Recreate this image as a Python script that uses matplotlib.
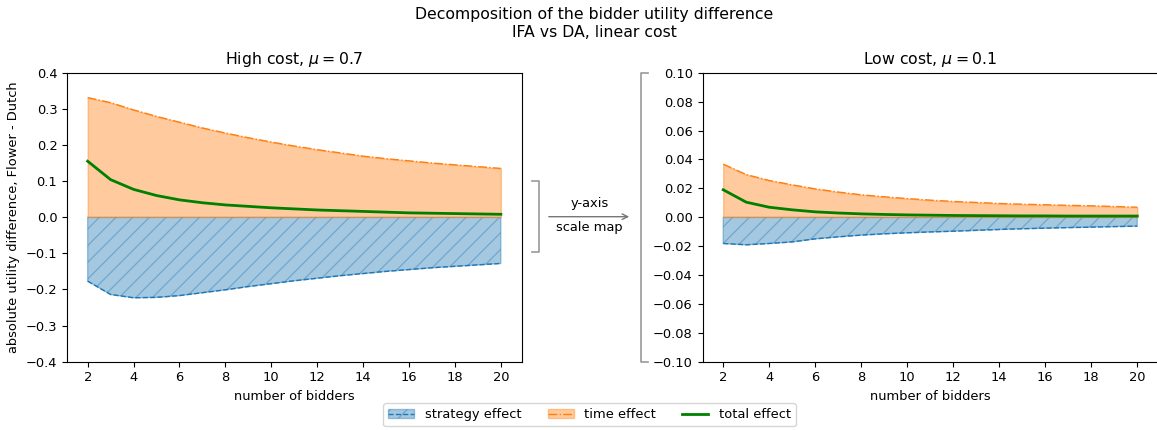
import matplotlib
matplotlib.use("Agg")
import matplotlib.pyplot as plt
from matplotlib.lines import Line2D
import numpy as np

# ---- data ----
bidders = [2, 3, 4, 5, 6, 7, 8, 9, 10, 11, 12, 13, 14, 15, 16, 17, 18, 19, 20]

high_time = [0.331, 0.317, 0.297, 0.279, 0.263, 0.247, 0.233, 0.220, 0.208, 0.197,
             0.187, 0.178, 0.169, 0.162, 0.156, 0.150, 0.145, 0.140, 0.135]
high_strategy = [-0.177, -0.214, -0.223, -0.222, -0.217, -0.209, -0.201, -0.192, -0.184, -0.176,
                 -0.169, -0.162, -0.156, -0.150, -0.145, -0.140, -0.136, -0.132, -0.128]
high_total = [0.155, 0.104, 0.077, 0.060, 0.048, 0.040, 0.034, 0.030, 0.026, 0.023,
              0.020, 0.018, 0.016, 0.014, 0.012, 0.011, 0.010, 0.009, 0.008]

low_time = [0.0367, 0.0295, 0.0254, 0.0224, 0.0196, 0.0174, 0.0155, 0.0141, 0.0129, 0.0118,
            0.0109, 0.0102, 0.0095, 0.0090, 0.0086, 0.0082, 0.0079, 0.0074, 0.0069]
low_strategy = [-0.0182, -0.0191, -0.0182, -0.0171, -0.0150, -0.0136, -0.0124, -0.0115, -0.0108, -0.0102,
                -0.0097, -0.0091, -0.0085, -0.0080, -0.0076, -0.0072, -0.0069, -0.0065, -0.0062]
low_total = [0.0190, 0.0104, 0.0069, 0.0051, 0.0037, 0.0029, 0.0023, 0.0019, 0.0016, 0.0014,
             0.0012, 0.0011, 0.0010, 0.0009, 0.0009, 0.0008, 0.0008, 0.0008, 0.0008]

panel_titles = [r"High cost, $\mu = 0.7$", r"Low cost, $\mu = 0.1$"]
legend_labels = ["strategy effect", "time effect", "total effect"]
xticks = [2, 4, 6, 8, 10, 12, 14, 16, 18, 20]

plt.rcParams['font.size'] = 9.4
plt.rcParams['axes.titlesize'] = 11.3
plt.rcParams['hatch.linewidth'] = 0.9

W, H = 1157, 430
fig = plt.figure(figsize=(W / 100, H / 100), dpi=100)

def fx(px):
    return px / W

def fy(py):
    return 1 - py / H

ax1 = fig.add_axes([fx(67), fy(361.7), fx(454.5), 289 / H])
ax2 = fig.add_axes([fx(702.5), fy(361.7), fx(455.5), 289 / H])

handles = None
for ax, time, strat, total, title, lim, step in [
    (ax1, high_time, high_strategy, high_total, panel_titles[0], 0.4, 0.1),
    (ax2, low_time, low_strategy, low_total, panel_titles[1], 0.1, 0.02),
]:
    fs = ax.fill_between(bidders, 0, strat, facecolor='C0', edgecolor='C0', alpha=0.4, hatch='//')
    ls, = ax.plot(bidders, strat, '--', color='C0', lw=1)
    ft = ax.fill_between(bidders, 0, time, color='C1', alpha=0.4)
    lt, = ax.plot(bidders, time, '-.', color='C1', lw=1)
    ltot, = ax.plot(bidders, total, '-', color='green', lw=2)
    ax.set_ylim(-lim, lim)
    ax.set_yticks(np.round(np.arange(-lim, lim + step / 2, step), 3))
    ax.set_xticks(xticks)
    ax.set_xlabel("number of bidders")
    ax.set_title(title)
    handles = [(fs, ls), (ft, lt), ltot]

ax1.set_ylabel("absolute utility difference, Flower - Dutch")

grey = '#999999'
# middle bracket (marks -0.1..0.1 on left axis)
fig.add_artist(Line2D([fx(531.7), fx(539), fx(539), fx(531.7)],
                      [fy(180.7), fy(180.7), fy(252.3), fy(252.3)],
                      color=grey, lw=1.2, transform=fig.transFigure))
# right bracket
fig.add_artist(Line2D([fx(648.3), fx(641), fx(641), fx(648.3)],
                      [fy(72.7), fy(72.7), fy(361.7), fy(361.7)],
                      color=grey, lw=1.2, transform=fig.transFigure))
# arrow
fig.patches.append(matplotlib.patches.FancyArrowPatch(
    (fx(546), fy(216.7)), (fx(632), fy(216.7)), transform=fig.transFigure,
    arrowstyle='->', mutation_scale=10, color='#777777', lw=1))
fig.text(fx(590), fy(204), "y-axis", ha='center', va='center')
fig.text(fx(589), fy(228), "scale map", ha='center', va='center')

fig.suptitle("Decomposition of the bidder utility difference\nIFA vs DA, linear cost",
             x=fx(594.5), y=fy(7.5), fontsize=11.3)

fig.legend(handles, legend_labels, ncol=3, loc='lower center',
           bbox_to_anchor=(fx(589.5), fy(433)), columnspacing=2.0)

fig.savefig("out.png", dpi=100)
